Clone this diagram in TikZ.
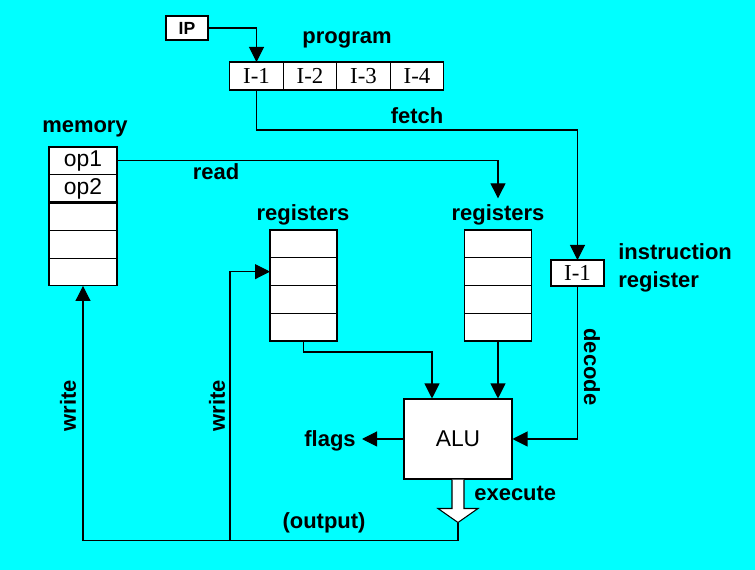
\documentclass[tikz,border=0pt]{standalone}
\usepackage{fontspec}
\setmainfont{Liberation Sans}
\newfontfamily\timesfont{Liberation Serif}
\usetikzlibrary{arrows.meta,positioning,calc}
\definecolor{bgcyan}{RGB}{0,255,255}

\begin{document}
\begin{tikzpicture}[x=0.02cm, y=-0.02cm, node distance=0pt, line width=0.6pt,
        >={Triangle[length=3mm,width=3mm]},
        lbl/.style={font=\fontsize{12.5}{14}\selectfont\bfseries},
        cell/.style={rectangle, draw, fill=white, inner sep=0pt, outer sep=0pt, minimum width=1.36cm, minimum height=0.556cm, font=\fontsize{13}{15}\selectfont},
        reg/.style={cell, minimum width=1.34cm, minimum height=0.555cm},
        prog/.style={cell, minimum width=1.07cm, minimum height=0.56cm, font=\fontsize{13}{15}\selectfont\timesfont}]

        \fill[bgcyan] (0,0) rectangle (755,570);

        % program
        \node[cell, minimum width=0.84cm, minimum height=0.48cm, font=\fontsize{10}{12}\selectfont\bfseries] (ip) at (187,28) {IP};
        \node[prog] (p1) at (256.5,76) {I-1};
        \node[prog, right=of p1] (p2) {I-2};
        \node[prog, right=of p2] (p3) {I-3};
        \node[prog, right=of p3] (p4) {I-4};
        \node[lbl] (proglbl) at (347,40) {program};
        \node[lbl] (fetch) at (417,116) {fetch};

        % memory
        \node[lbl] (memlbl) at (85,129) {memory};
        \node[cell] (m1) at (83,160.9) {op1};
        \node[cell, below=of m1] (m2) {op2};
        \node[cell, below=of m2] (m3) {};
        \node[cell, below=of m3] (m4) {};
        \node[cell, below=of m4] (m5) {};
        \draw[line width=1.3pt] (m3.north west) -- (m3.north east);
        \node[lbl] (read) at (216,172) {read};

        % registers
        \node[lbl] (r1lbl) at (303,215) {registers};
        \node[reg] (ra1) at (303.5,243.9) {};
        \node[reg, below=of ra1] (ra2) {};
        \node[reg, below=of ra2] (ra3) {};
        \node[reg, below=of ra3] (ra4) {};
        \node[lbl] (r2lbl) at (498,215) {registers};
        \node[reg] (rb1) at (498,243.9) {};
        \node[reg, below=of rb1] (rb2) {};
        \node[reg, below=of rb2] (rb3) {};
        \node[reg, below=of rb3] (rb4) {};

        % instruction register
        \node[prog, minimum width=1.06cm, minimum height=0.52cm] (ir) at (577.5,273) {I-1};
        \node[lbl, anchor=west, align=left] (irlbl) at (612,268) {instruction\\[2pt]register};
        \node[lbl, rotate=-90] (dec) at (592,367) {decode};

        % ALU
        \node[rectangle, draw, fill=white, minimum width=2.16cm, minimum height=1.6cm, font=\fontsize{13}{15}\selectfont] (alu) at (458,439) {ALU};
        \node[lbl] (flags) at (330,441) {flags};
        \node[lbl, anchor=west] (exec) at (468,493) {execute};
        \node[lbl] (outlbl) at (324,523) {(output)};
        \node[lbl, rotate=90] (wr1) at (68,406) {write};
        \node[lbl, rotate=90] (wr2) at (217,406) {write};

        \draw[->] (ip.east) -| (p1.north);
        \draw[->] (p1.south) -- ++(0,40) -| (ir.north);
        \draw[->] (m1.east) -| (r2lbl.north);
        \draw[->] (ra4.south) -- ++(0,11) -| ($(alu.north)+(-26,0)$);
        \draw[->] (rb4.south) -- (rb4.south |- alu.north);
        \draw[->] (ir.south) |- (alu.east);
        \draw[->] (alu.west) -- (alu.west -| flags.east);
        \draw[fill=white] ($(alu.south)+(-6,0)$) -- ++(0,29) -- ++(-14,0) -- ++(20,14) coordinate (tip) -- ++(20,-14) -- ++(-14,0) -- ++(0,-29);
        \draw[->] (tip) -- ++(0,18) -| (m5.south);
        \coordinate (br) at (230,540);
        \draw[->] (br) |- (ra2.west);
    \end{tikzpicture}
\end{document}
